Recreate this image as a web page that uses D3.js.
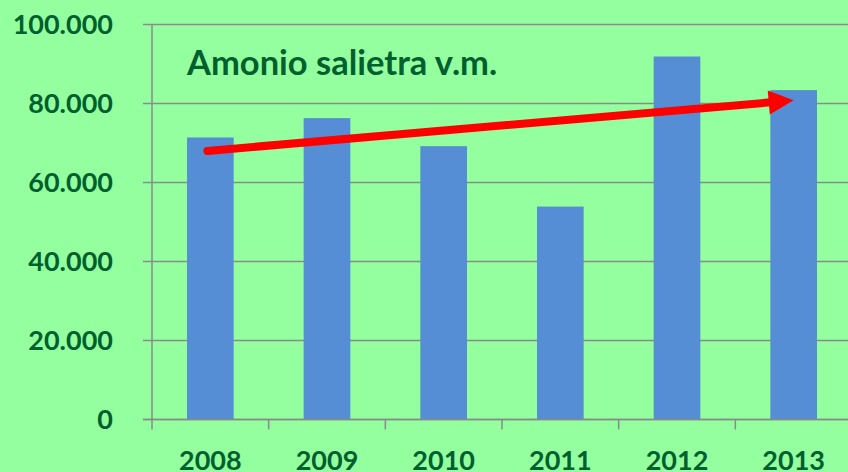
<!DOCTYPE html>
<html>
<head>
<meta charset="utf-8">
<script src="https://cdn.jsdelivr.net/npm/d3@7"></script>
<style>
  body { margin: 0; background: #93ff9f; }
  svg { display: block; }
  text { font-family: Lato, 'Open Sans', sans-serif; font-weight: bold; fill: #005f2e; }
</style>
</head>
<body>
<svg></svg>
<script>
// values
var years = ['2008', '2009', '2010', '2011', '2012', '2013']
var amounts = [71400, 76300, 69200, 53900, 91900, 83400]
var yTicks = [0, 20000, 40000, 60000, 80000, 100000]
var trendFrom = { year: '2008', value: 68000 }
var trendTo = { year: '2013', value: 80800 }
var title = 'Amonio salietra v.m.'

var width = 848
var height = 472
var margin = { top: 24.5, right: -4, bottom: 52.5, left: 152 }

var data = years.map((y, i) => ({ year: y, value: amounts[i] }))

var svg = d3.select('svg').attr('width', width).attr('height', height)

var x = d3
  .scaleBand()
  .domain(years)
  .range([margin.left, width - margin.right])
  .paddingInner(0.6)
  .paddingOuter(0.3)

var y = d3
  .scaleLinear()
  .domain([0, 100000])
  .range([height - margin.bottom, margin.top])

var fmt = d => d3.format(',')(d).replace(/,/g, '.')

// gridlines + y tick labels
var grid = svg.append('g')
grid
  .selectAll('line')
  .data(yTicks)
  .enter()
  .append('line')
  .attr('x1', margin.left - 9)
  .attr('x2', width)
  .attr('y1', d => y(d))
  .attr('y2', d => y(d))
  .attr('stroke', '#8a8a8a')
  .attr('stroke-width', 1.5)

grid
  .selectAll('text')
  .data(yTicks)
  .enter()
  .append('text')
  .attr('x', 113)
  .attr('y', d => y(d))
  .attr('dy', '0.36em')
  .attr('text-anchor', 'end')
  .attr('font-size', 27)
  .text(fmt)

// y axis line
svg
  .append('line')
  .attr('x1', margin.left)
  .attr('x2', margin.left)
  .attr('y1', y(100000))
  .attr('y2', y(0))
  .attr('stroke', '#8a8a8a')
  .attr('stroke-width', 1.5)

// bars
svg
  .append('g')
  .selectAll('rect')
  .data(data)
  .enter()
  .append('rect')
  .attr('x', d => x(d.year))
  .attr('width', x.bandwidth())
  .attr('y', d => y(d.value))
  .attr('height', d => y(0) - y(d.value))
  .attr('fill', '#558ed5')

// x axis
var xAxis = svg.append('g').attr('transform', `translate(0,${y(0)})`)
xAxis
  .append('line')
  .attr('x1', margin.left - 9)
  .attr('x2', width)
  .attr('stroke', '#8a8a8a')
  .attr('stroke-width', 1.5)
xAxis
  .selectAll('line.tick')
  .data(years)
  .enter()
  .append('line')
  .attr('class', 'tick')
  .attr('x1', d => x(d) - x.step() * x.paddingOuter())
  .attr('x2', d => x(d) - x.step() * x.paddingOuter())
  .attr('y1', 0)
  .attr('y2', 10)
  .attr('stroke', '#8a8a8a')
  .attr('stroke-width', 1.5)
xAxis
  .selectAll('text')
  .data(years)
  .enter()
  .append('text')
  .attr('x', d => x(d) + x.bandwidth() / 2)
  .attr('y', 50.5)
  .attr('text-anchor', 'middle')
  .attr('font-size', 27)
  .text(d => d)

// title
svg
  .append('text')
  .attr('x', 187)
  .attr('y', 75)
  .attr('font-size', 34.5)
  .text(title)

// trend arrow
var x0 = x(trendFrom.year) + x.bandwidth() / 2 - 3
var y0 = y(trendFrom.value)
var x1 = x(trendTo.year) + x.bandwidth() / 2
var y1 = y(trendTo.value)
var len = Math.hypot(x1 - x0, y1 - y0)
var ux = (x1 - x0) / len
var uy = (y1 - y0) / len
var headLen = 25
var headHalf = 12
var bx = x1 - ux * headLen
var by = y1 - uy * headLen

svg
  .append('line')
  .attr('x1', x0)
  .attr('y1', y0)
  .attr('x2', bx + ux * 2)
  .attr('y2', by + uy * 2)
  .attr('stroke', '#ff0000')
  .attr('stroke-width', 8)
  .attr('stroke-linecap', 'round')

svg
  .append('path')
  .attr(
    'd',
    d3.line()([
      [x1, y1],
      [bx - uy * headHalf, by + ux * headHalf],
      [bx + uy * headHalf, by - ux * headHalf]
    ]) + 'Z'
  )
  .attr('fill', '#ff0000')
</script>
</body>
</html>
